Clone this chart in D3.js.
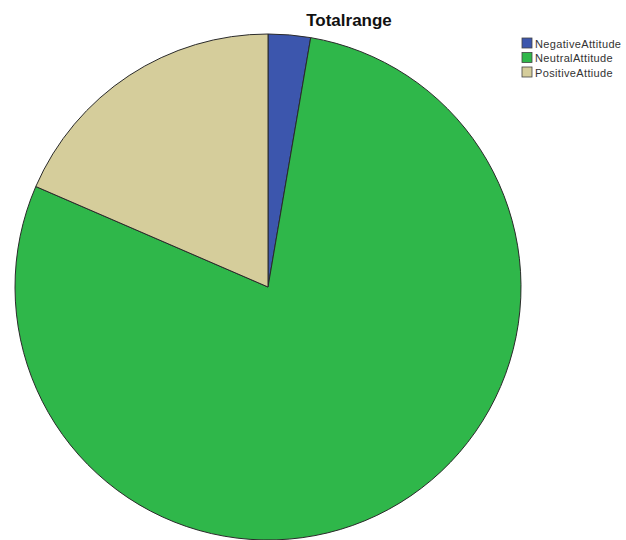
<!DOCTYPE html>
<html lang="en">
<head>
  <meta charset="UTF-8" />
  <title>Totalrange</title>
  <script src="https://d3js.org/d3.v7.min.js"></script>
  <style>
    body {
      margin: 0;
      background: #fff;
      font-family: "Liberation Sans", Arial, sans-serif;
    }
    svg {
      display: block;
    }
    path.slice {
      stroke: #2a2a2a;
      stroke-width: 1;
    }
    text.title {
      font-size: 17px;
      font-weight: bold;
      fill: #111;
    }
    text.legend {
      font-size: 11px;
      letter-spacing: 0.35px;
      fill: #333;
    }
  </style>
</head>
<body>

<svg width="626" height="540"></svg>

<script>
  const categories = ["NegativeAttitude", "NeutralAttitude", "PositiveAttiude"];
  const percents = [2.7, 78.8, 18.5];
  const colors = ["#3c56ad", "#2fb74a", "#d5cd9b"];

  const svg = d3.select("svg");
  const cx = 268, cy = 287, radius = 253;

  // title
  svg.append("text")
    .attr("class", "title")
    .attr("x", 349)
    .attr("y", 26)
    .attr("text-anchor", "middle")
    .text("Totalrange");

  const pie = d3.pie().sort(null).value(d => d.value);
  const arc = d3.arc().innerRadius(0).outerRadius(radius);

  const data = categories.map((c, i) => ({ name: c, value: percents[i] }));

  svg.append("g")
    .attr("transform", `translate(${cx},${cy})`)
    .selectAll("path.slice")
    .data(pie(data))
    .enter().append("path")
    .attr("class", "slice")
    .attr("fill", (d, i) => colors[i])
    .attr("d", arc);

  // legend
  const legend = svg.append("g")
    .attr("transform", "translate(522,38)");

  const row = legend.selectAll("g")
    .data(categories)
    .enter().append("g")
    .attr("transform", (d, i) => `translate(0,${i * 14.5})`);

  row.append("rect")
    .attr("width", 10)
    .attr("height", 10)
    .attr("fill", (d, i) => colors[i])
    .attr("stroke", "#444")
    .attr("stroke-width", 0.8);

  row.append("text")
    .attr("class", "legend")
    .attr("x", 13)
    .attr("y", 9.5)
    .text(d => d);
</script>

</body>
</html>
